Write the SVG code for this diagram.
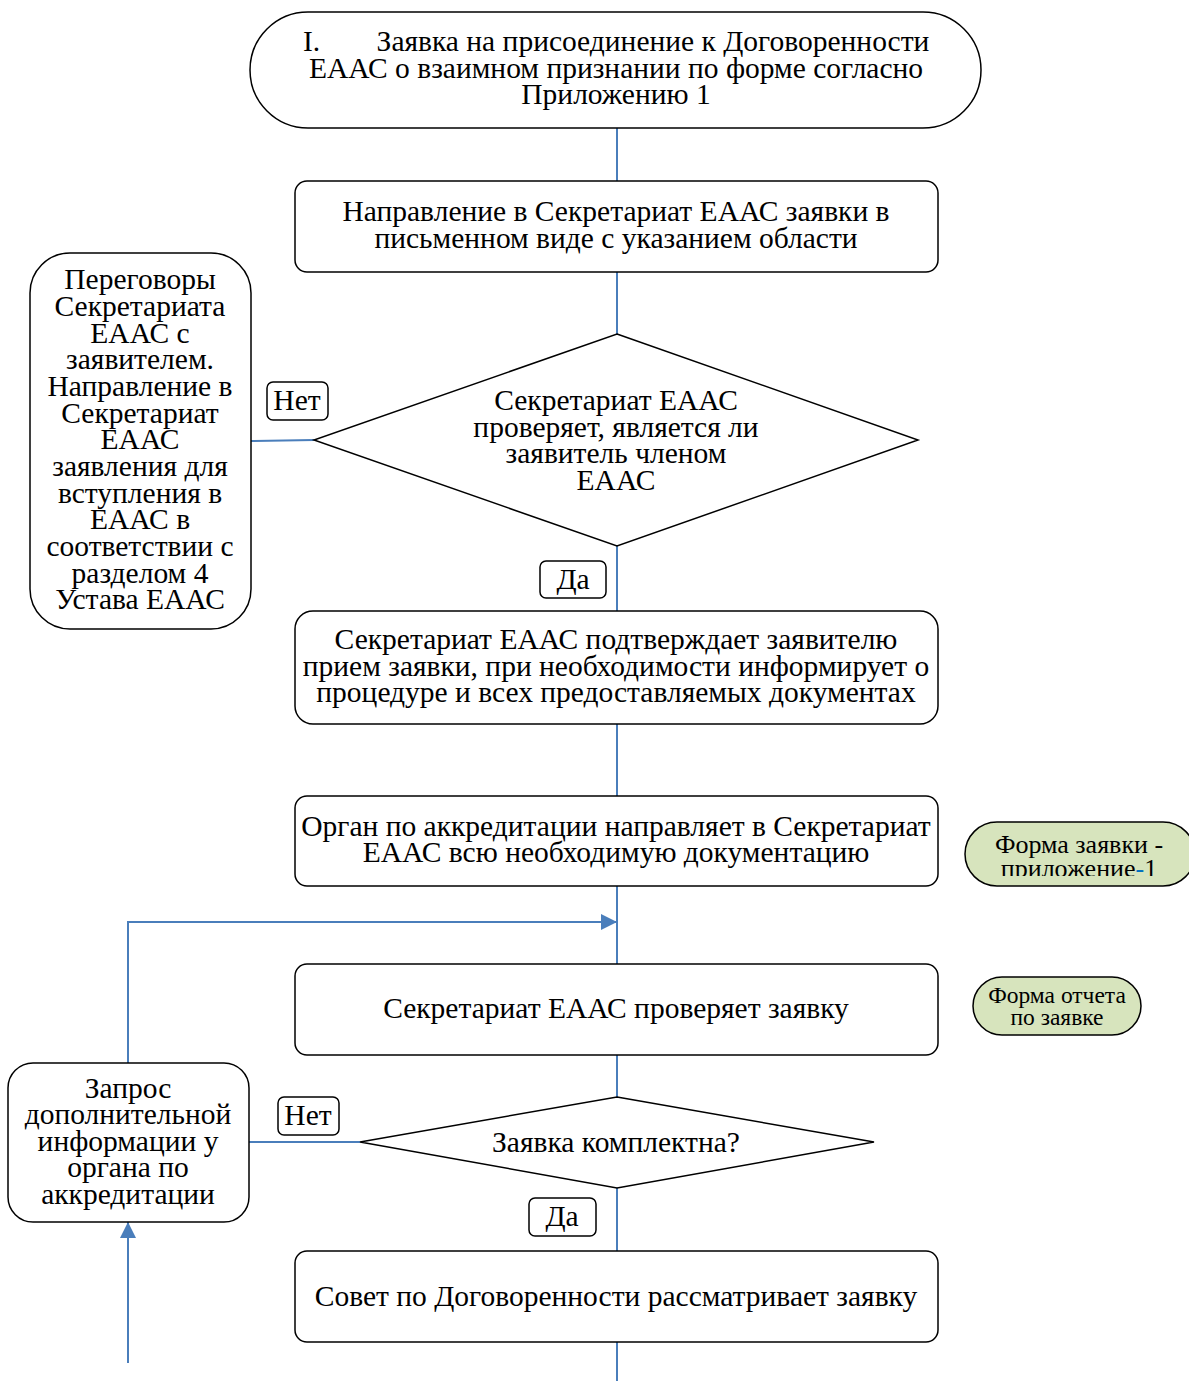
<svg xmlns="http://www.w3.org/2000/svg" width="1189" height="1381" viewBox="0 0 1189 1381">
<defs>
<style>
.n{fill:#fff;stroke:#000;stroke-width:1.5}
.g{fill:#d7e4bd;stroke:#000;stroke-width:1.5}
.c{fill:none;stroke:#4a7ebb;stroke-width:2}
text{font-family:"Liberation Serif","Times New Roman",serif;fill:#000;text-anchor:middle}
.t{font-size:29.5px}
.s{font-size:26px}
.xs{font-size:23.5px}
</style>
<marker id="ah2" viewBox="0 0 10 10" refX="10" refY="5" markerWidth="16" markerHeight="16" markerUnits="userSpaceOnUse" orient="auto"><path d="M0,0 L10,5 L0,10 z" fill="#4a7ebb"/></marker>
<clipPath id="clipG"><rect x="960" y="820" width="229" height="56"/></clipPath>
</defs>
<g id="connectors">
<line class="c" x1="617" y1="128" x2="617" y2="181"/>
<line class="c" x1="617" y1="272" x2="617" y2="334"/>
<line class="c" x1="617" y1="546" x2="617" y2="611"/>
<line class="c" x1="617" y1="724" x2="617" y2="796"/>
<line class="c" x1="617" y1="886" x2="617" y2="964"/>
<line class="c" x1="617" y1="1055" x2="617" y2="1097"/>
<line class="c" x1="617" y1="1188" x2="617" y2="1251"/>
<line class="c" x1="617" y1="1342" x2="617" y2="1381"/>
<line class="c" x1="251" y1="441" x2="314" y2="440"/>
<polyline class="c" points="128,1063 128,922 617,922" marker-end="url(#ah2)"/>
<line class="c" x1="249" y1="1142" x2="360" y2="1142"/>
<line class="c" x1="128" y1="1363" x2="128" y2="1222" marker-end="url(#ah2)"/>
</g>
<g id="start">
<rect class="n" x="250" y="12" width="731" height="116" rx="58"/>
<text class="t"><tspan x="303" y="51" text-anchor="start">I.</tspan><tspan x="653" y="51">Заявка на присоединение к Договоренности</tspan><tspan x="616" y="78">ЕААС о взаимном признании по форме согласно</tspan><tspan x="616" y="104">Приложению 1</tspan></text>
</g>
<g id="send">
<rect class="n" x="295" y="181" width="643" height="91" rx="12"/>
<text class="t"><tspan x="616" y="221">Направление в Секретариат ЕААС заявки в</tspan><tspan x="616" y="248">письменном виде с указанием области</tspan></text>
</g>
<g id="check-member">
<polygon class="n" points="617,334 918,440 617,546 314,440"/>
<text class="t"><tspan x="616" y="410">Секретариат ЕААС</tspan><tspan x="616" y="437">проверяет, является ли</tspan><tspan x="616" y="463">заявитель членом</tspan><tspan x="616" y="490">ЕААС</tspan></text>
</g>
<g id="negotiation">
<rect class="n" x="30" y="253" width="221" height="376" rx="40"/>
<text class="t"><tspan x="140" y="289">Переговоры</tspan><tspan x="140" y="316">Секретариата</tspan><tspan x="140" y="343">ЕААС с</tspan><tspan x="140" y="369">заявителем.</tspan><tspan x="140" y="396">Направление в</tspan><tspan x="140" y="423">Секретариат</tspan><tspan x="140" y="449">ЕААС</tspan><tspan x="140" y="476">заявления для</tspan><tspan x="140" y="503">вступления в</tspan><tspan x="140" y="529">ЕААС в</tspan><tspan x="140" y="556">соответствии с</tspan><tspan x="140" y="583">разделом 4</tspan><tspan x="140" y="609">Устава ЕААС</tspan></text>
</g>
<g id="label-no-1">
<rect class="n" x="267" y="382" width="61" height="38" rx="6"/>
<text class="t" x="297" y="410">Нет</text>
</g>
<g id="label-yes-1">
<rect class="n" x="540" y="561" width="66" height="37" rx="6"/>
<text class="t" x="573" y="589">Да</text>
</g>
<g id="confirm">
<rect class="n" x="295" y="611" width="643" height="113" rx="18"/>
<text class="t"><tspan x="616" y="649">Секретариат ЕААС подтверждает заявителю</tspan><tspan x="616" y="676">прием заявки, при необходимости информирует о</tspan><tspan x="616" y="702">процедуре и всех предоставляемых документах</tspan></text>
</g>
<g id="docs">
<rect class="n" x="295" y="796" width="643" height="90" rx="12"/>
<text class="t"><tspan x="616" y="836">Орган по аккредитации направляет в Секретариат</tspan><tspan x="616" y="862">ЕААС всю необходимую документацию</tspan></text>
</g>
<g id="form-app">
<rect class="g" x="965" y="822" width="230" height="64" rx="32"/>
<text class="s" clip-path="url(#clipG)"><tspan x="1079" y="853">Форма заявки -</tspan><tspan x="1079" y="877">приложение<tspan fill="#0070c0">-</tspan>1</tspan></text>
</g>
<g id="verify">
<rect class="n" x="295" y="964" width="643" height="91" rx="12"/>
<text class="t" x="616" y="1018">Секретариат ЕААС проверяет заявку</text>
</g>
<g id="form-report">
<rect class="g" x="973" y="977" width="168" height="58" rx="29"/>
<text class="xs"><tspan x="1057" y="1003">Форма отчета</tspan><tspan x="1057" y="1025">по заявке</tspan></text>
</g>
<g id="complete">
<polygon class="n" points="617,1097 874,1142 617,1188 360,1142"/>
<text class="t" x="616" y="1152">Заявка комплектна?</text>
</g>
<g id="request">
<rect class="n" x="8" y="1063" width="241" height="159" rx="25"/>
<text class="t"><tspan x="128" y="1098">Запрос</tspan><tspan x="128" y="1124">дополнительной</tspan><tspan x="128" y="1151">информации у</tspan><tspan x="128" y="1177">органа по</tspan><tspan x="128" y="1204">аккредитации</tspan></text>
</g>
<g id="label-no-2">
<rect class="n" x="278" y="1097" width="61" height="38" rx="6"/>
<text class="t" x="308" y="1125">Нет</text>
</g>
<g id="label-yes-2">
<rect class="n" x="529" y="1198" width="67" height="38" rx="6"/>
<text class="t" x="562" y="1226">Да</text>
</g>
<g id="council">
<rect class="n" x="295" y="1251" width="643" height="91" rx="12"/>
<text class="t" x="616" y="1306">Совет по Договоренности рассматривает заявку</text>
</g>
</svg>
